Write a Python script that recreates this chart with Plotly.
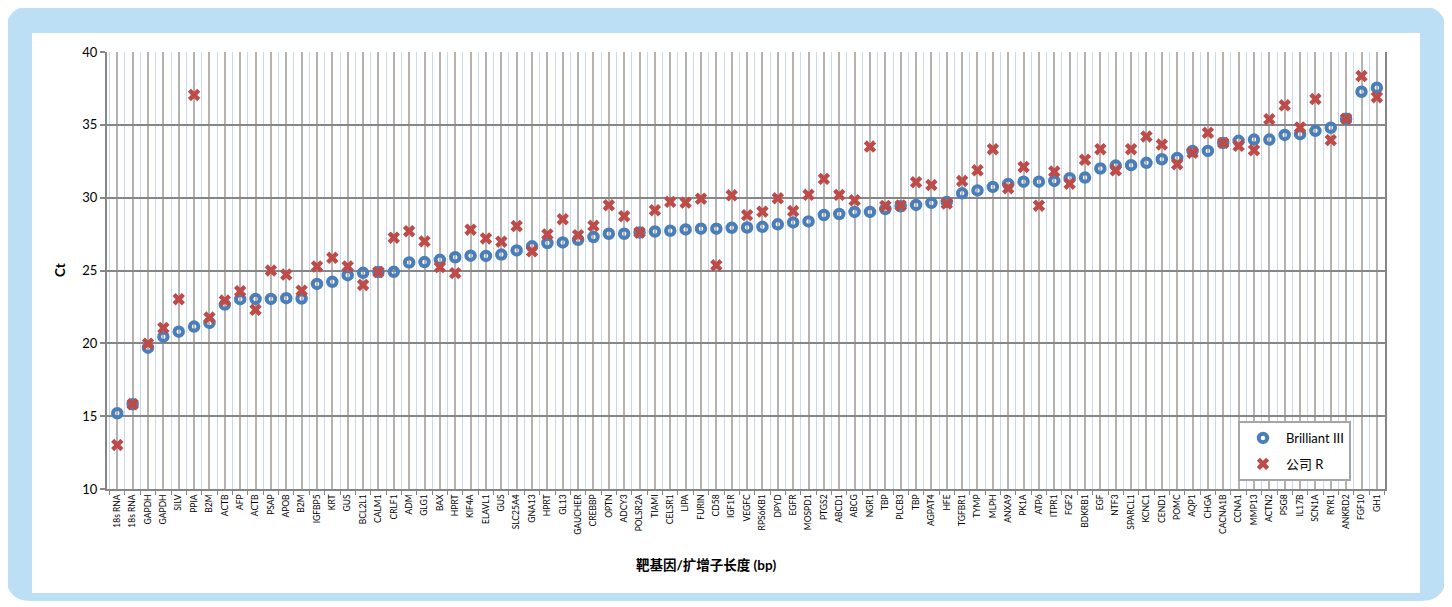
import plotly.graph_objects as go

genes = ["18s RNA", "18s RNA", "GAPDH", "GAPDH", "SILV", "PPIA", "B2M", "ACTB", "AFP", "ACTB",
         "PSAP", "APOB", "B2M", "IGFBP5", "KRT", "GUS", "BCL2L1", "CALM1", "CRLF1", "ADM",
         "GLG1", "BAX", "HPRT", "KIF4A", "ELAVL1", "GUS", "SLC25A4", "GNA13", "HPRT", "GL13",
         "GAUCHER", "CREBBP", "OPTN", "ADCY3", "POLSR2A", "TIAMI", "CELSR1", "LIPA", "FURIN", "CD58",
         "IGF1R", "VEGFC", "RPS6KB1", "DPYD", "EGFR", "MOSPD1", "PTGS2", "ABCD1", "ABCG", "NGR1",
         "TBP", "PLCB3", "TBP", "AGPAT4", "HFE", "TGFBR1", "TYMP", "MLPH", "ANXA9", "PK1A",
         "ATP6", "ITPR1", "FGF2", "BDKRB1", "EGF", "NTF3", "SPARCL1", "KCNC1", "CEND1", "POMC",
         "AQP1", "CHGA", "CACNA1B", "CCNA1", "MMP13", "ACTN2", "PSG8", "IL17B", "SCN1A", "RYR1",
         "ANKRD2", "FGF10", "GH1"]

brilliant_iii = [15.2, 15.82, 19.7, 20.46, 20.8, 21.15, 21.4, 22.66, 23.03, 23.05,
                 23.05, 23.1, 23.08, 24.08, 24.22, 24.68, 24.84, 24.9, 24.91, 25.55,
                 25.58, 25.73, 25.91, 26.02, 26.0, 26.09, 26.38, 26.66, 26.89, 26.93,
                 27.11, 27.3, 27.52, 27.52, 27.61, 27.68, 27.73, 27.82, 27.87, 27.87,
                 27.93, 27.95, 28.0, 28.17, 28.3, 28.37, 28.81, 28.88, 29.02, 29.02,
                 29.22, 29.41, 29.5, 29.64, 29.7, 30.3, 30.5, 30.74, 30.94, 31.1,
                 31.1, 31.15, 31.33, 31.38, 32.0, 32.2, 32.23, 32.39, 32.64, 32.73,
                 33.21, 33.21, 33.76, 33.9, 33.99, 33.99, 34.31, 34.36, 34.59, 34.8,
                 35.42, 37.27, 37.55]

company_r = [13.02, 15.82, 19.98, 21.06, 23.03, 37.05, 21.77, 22.94, 23.58, 22.3,
             25.0, 24.72, 23.62, 25.28, 25.87, 25.28, 24.01, 24.9, 27.25, 27.7,
             27.0, 25.23, 24.82, 27.8, 27.2, 26.98, 28.05, 26.32, 27.48, 28.52,
             27.43, 28.07, 29.48, 28.73, 27.61, 29.14, 29.71, 29.66, 29.93, 25.36,
             30.16, 28.8, 29.04, 29.96, 29.08, 30.2, 31.29, 30.19, 29.82, 33.51,
             29.43, 29.47, 31.06, 30.87, 29.59, 31.15, 31.88, 33.33, 30.65, 32.11,
             29.45, 31.79, 30.96, 32.6, 33.33, 31.88, 33.33, 34.2, 33.65, 32.3,
             33.08, 34.45, 33.76, 33.56, 33.26, 35.39, 36.34, 34.82, 36.77, 33.95,
             35.42, 38.35, 36.9]

y_ticks = [10, 15, 20, 25, 30, 35, 40]

FONT = "Lato, 'Noto Sans CJK SC', sans-serif"
W, H = 1452, 607
OFF = 8  # page body margin: the figure is drawn 8 px in from the window corner
# target screen positions of the plot area
SL, SR, ST, SB = 107, 1385, 52, 489
ML, MT = SL - OFF, ST - OFF
MR, MB = W - (SR - OFF), H - (SB - OFF)
PW, PH = SR - SL, SB - ST


def px(x):
    return (x - SL) / PW


def py(y):
    return (SB - y) / PH


def rounded_rect(x0, y0, x1, y1, r):
    rx = r / PW
    ry = r / PH
    a, b, c, d = px(x0), px(x1), py(y0), py(y1)
    return (f"M {a+rx},{c} L {b-rx},{c} Q {b},{c} {b},{c-ry} "
            f"L {b},{d+ry} Q {b},{d} {b-rx},{d} L {a+rx},{d} Q {a},{d} {a},{d+ry} "
            f"L {a},{c-ry} Q {a},{c} {a+rx},{c} Z")


xs = list(range(len(genes)))

fig = go.Figure()
fig.add_trace(go.Scatter(
    x=xs, y=brilliant_iii, mode="markers", name="Brilliant III", legendgroup="a",
    marker=dict(symbol="circle-open", size=8.5, color="#4A7EBB", line=dict(width=4, color="#4A7EBB")),
))
fig.add_trace(go.Scatter(
    x=xs, y=company_r, mode="markers", name="公司 R  ", legendgroup="b",
    marker=dict(symbol="x", size=11, color="#BE4B48", line=dict(width=0)),
))

fig.update_layout(
    width=W, height=H,
    margin=dict(l=ML, r=MR, t=MT, b=MB),
    paper_bgcolor="white",
    plot_bgcolor="rgba(0,0,0,0)",
    font=dict(family=FONT, color="#000000", size=13),
    showlegend=True,
    legend=dict(
        x=px(1238), y=py(421), xanchor="left", yanchor="top",
        bgcolor="white", bordercolor="#A6A6A6", borderwidth=2,
        font=dict(size=13, family=FONT), tracegroupgap=6,
        traceorder="grouped", itemwidth=36,
    ),
    shapes=[
        dict(type="path", xref="paper", yref="paper", layer="below",
             path=rounded_rect(6, 6, 1446, 601, 26),
             fillcolor="#BDDFF5", line=dict(width=0)),
        dict(type="rect", xref="paper", yref="paper", layer="below",
             x0=px(32), x1=px(1420), y0=py(593), y1=py(33),
             fillcolor="white", line=dict(width=0)),
    ],
    annotations=[
        dict(text="<b>靶基因/扩增子长度 (bp)</b>", xref="paper", yref="paper",
             x=px(706), y=py(565), showarrow=False, font=dict(size=13.5, family=FONT),
             xanchor="center", yanchor="middle"),
        dict(text="<b>Ct</b>", xref="paper", yref="paper",
             x=px(60), y=py(270), showarrow=False, textangle=-90,
             font=dict(size=13.5, family=FONT), xanchor="center", yanchor="middle"),
    ],
)

fig.update_xaxes(
    range=[-0.67, 82.53],
    tickmode="array", tickvals=xs, ticktext=genes, tickangle=-90,
    tickfont=dict(size=8.5, family=FONT),
    ticks="", showgrid=True, gridcolor="#B3B3B3", gridwidth=2,
    showline=True, linecolor="#868686", linewidth=2,
    minor=dict(tick0=0.5, dtick=1, showgrid=True, gridcolor="#C6D9F1", gridwidth=1,
               ticks="outside", ticklen=4, tickcolor="#868686", tickwidth=1),
    zeroline=False,
)
fig.update_yaxes(
    range=[10, 40], tickmode="array", tickvals=y_ticks,
    tickfont=dict(size=13, family=FONT),
    ticks="outside", ticklen=5, tickcolor="#868686", tickwidth=2,
    showgrid=True, gridcolor="#868686", gridwidth=2,
    showline=True, linecolor="#868686", linewidth=2, mirror=True,
    zeroline=False,
)

fig.write_html("out.html")
